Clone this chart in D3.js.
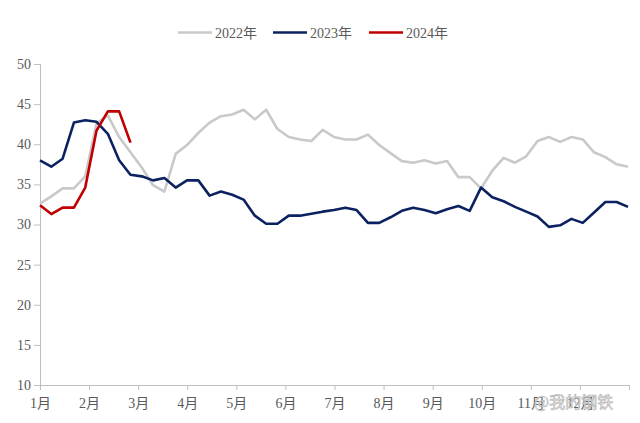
<!DOCTYPE html>
<html>
<head>
<meta charset="utf-8">
<script src="https://cdn.jsdelivr.net/npm/d3@7"></script>
<style>
  body { margin: 0; background: #fff; }
  text { font-family: "Liberation Serif", "Noto Sans CJK SC", serif; }
</style>
</head>
<body>
<svg id="chart" width="640" height="423"></svg>
<script>
// month labels on the x axis
const months = ['1月', '2月', '3月', '4月', '5月', '6月', '7月', '8月', '9月', '10月', '11月', '12月'];
const yTicks = [10, 15, 20, 25, 30, 35, 40, 45, 50];
const seriesNames = ['2022年', '2023年', '2024年'];

// weekly values
const y2022 = [32.6, 33.5, 34.5, 34.5, 36.0, 42.6, 43.6, 40.9, 39.0, 37.1,
    34.9, 34.1, 38.8, 39.9, 41.4, 42.7, 43.5, 43.7, 44.3, 43.1,
    44.3, 41.9, 40.9, 40.6, 40.4, 41.8, 40.9, 40.6, 40.6, 41.2,
    39.9, 38.9, 37.9, 37.7, 38.0, 37.6, 37.9, 35.9, 35.9, 34.5,
    36.7, 38.3, 37.7, 38.5, 40.4, 40.9, 40.3, 40.9, 40.6, 39.0,
    38.4, 37.5, 37.2];
const y2023 = [38.0, 37.2, 38.2, 42.7, 43.0, 42.8, 41.3, 38.0, 36.2, 36.0,
    35.5, 35.8, 34.6, 35.5, 35.5, 33.6, 34.1, 33.7, 33.1, 31.1,
    30.1, 30.1, 31.1, 31.1, 31.35, 31.6, 31.8, 32.1, 31.8, 30.2,
    30.2, 30.9, 31.7, 32.1, 31.8, 31.4, 31.9, 32.3, 31.7, 34.6,
    33.4, 32.9, 32.2, 31.6, 31.0, 29.7, 29.9, 30.7, 30.2, 31.5,
    32.8, 32.8, 32.2];
const y2024 = [32.4, 31.3, 32.1, 32.1, 34.6, 41.7, 44.1, 44.1, 40.2];

const colors = ['#c9c9c9', '#0c2160', '#c00000'];

const svg = d3.select('#chart');
const mLeft = 40, mRight = 628, mTop = 64, mBottom = 385;

const x = d3.scaleLinear().domain([0, y2022.length - 1]).range([mLeft, mRight]);
const xm = d3.scaleLinear().domain([0, 12]).range([mLeft, mRight + 1]);
const y = d3.scaleLinear().domain([10, 50]).range([mBottom, mTop]);

// y axis
const yAxis = svg.append('g')
    .attr('transform', 'translate(' + mLeft + ',0)')
    .call(d3.axisLeft(y).tickValues(yTicks).tickSize(6).tickPadding(3));
yAxis.select('.domain').attr('stroke', '#bfbfbf').attr('d', 'M0.5,' + mTop + 'V' + mBottom);
yAxis.selectAll('.tick line').attr('stroke', '#bfbfbf');
yAxis.selectAll('.tick text').attr('fill', '#595959').style('font-size', '14px');

// x axis
const xAxis = svg.append('g')
    .attr('transform', 'translate(0,' + mBottom + ')')
    .call(d3.axisBottom(xm).tickValues(d3.range(13)).tickSize(5).tickPadding(8)
        .tickFormat(i => months[i] || ''));
xAxis.select('.domain').attr('stroke', '#bfbfbf').attr('d', 'M' + mLeft + ',0.5H' + (mRight + 1));
xAxis.selectAll('.tick line').attr('stroke', '#bfbfbf');
xAxis.selectAll('.tick text').attr('fill', '#595959').style('font-size', '14px');

const line = d3.line()
    .x((d, i) => x(i))
    .y(d => y(d));

[y2022, y2023, y2024].forEach((s, k) => {
    svg.append('path')
        .datum(s)
        .attr('fill', 'none')
        .attr('stroke', colors[k])
        .attr('stroke-width', 2.6)
        .attr('stroke-linejoin', 'round')
        .attr('d', line);
});

// legend
const legendX = [178, 273, 369];
const legend = svg.append('g');
seriesNames.forEach((name, k) => {
    legend.append('line')
        .attr('x1', legendX[k]).attr('x2', legendX[k] + 34)
        .attr('y1', 32.5).attr('y2', 32.5)
        .attr('stroke', colors[k]).attr('stroke-width', 2.6);
    legend.append('text')
        .attr('x', legendX[k] + 37).attr('y', 37.5)
        .attr('fill', '#595959')
        .style('font-size', '14px')
        .text(name);
});

// watermark
svg.append('text')
    .attr('x', 534).attr('y', 408)
    .attr('fill', '#e6e6e6')
    .attr('stroke', '#b5b5b5')
    .attr('stroke-width', 0.6)
    .style('font-size', '16px')
    .style('font-family', '"Noto Sans CJK SC", sans-serif')
    .text('@我的钢铁');
</script>
</body>
</html>
